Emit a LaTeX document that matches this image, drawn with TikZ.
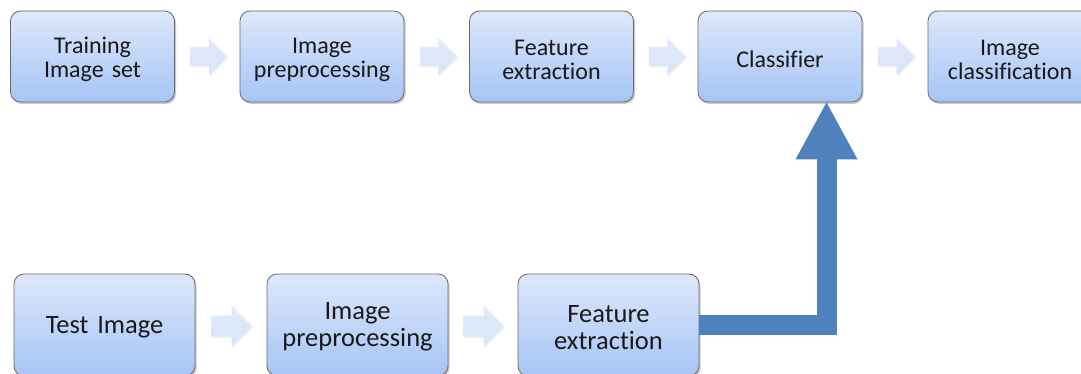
\documentclass[tikz,border=0pt]{standalone}
\usepackage{fontspec}
\setmainfont{Carlito}[Ligatures=NoCommon]
\usetikzlibrary{arrows.meta,shadows,calc}
\definecolor{boxtop}{RGB}{221,232,251}
\definecolor{boxbot}{RGB}{166,196,246}
\definecolor{boxborder}{RGB}{105,105,105}
\definecolor{arrtop}{RGB}{226,234,250}
\definecolor{arrbot}{RGB}{216,228,249}
\definecolor{bigblue}{RGB}{79,129,189}
\definecolor{txt}{RGB}{25,25,25}
\tikzset{
  box/.style={rounded corners=10pt, draw=boxborder, line width=0.8pt,
    top color=boxtop, bottom color=boxbot, align=center, text=txt,
    execute at begin node={\rule{0pt}{21.5pt}},
    drop shadow={shadow xshift=1.5pt, shadow yshift=-2pt, opacity=0.35, fill=black!60}},
  topbox/.style={box, minimum width=164pt, minimum height=91pt, text width=150pt,
    font=\fontsize{24}{24}\selectfont},
  botbox/.style={box, minimum width=181pt, minimum height=102pt, text width=165pt,
    font=\fontsize{26.5}{27}\selectfont},
  flowarrow/.pic={
    \shade[top color=arrtop, bottom color=arrbot,
      drop shadow={shadow xshift=1pt, shadow yshift=-1.5pt, opacity=0.12, fill=black!50}]
      (-18.5,-9.5) -- (0,-9.5) -- (0,-18.5) -- (18.5,0) -- (0,18.5) -- (0,9.5) -- (-18.5,9.5) -- cycle;
  },
  bigarrow/.style={line width=20pt, draw=bigblue,
    -{Triangle[width=62pt,length=57pt,line width=0pt]}}
}
\begin{document}
\begin{tikzpicture}[x=1pt,y=-1pt]
\clip (0,0) rectangle (1081,374);
\fill[white] (0,0) rectangle (1081,374);
% top row
\node[topbox] (t1) at (92.5,56.5) {Training\\Image set};
\node[topbox] (t2) at (322,56.5) {Image\\preprocessing};
\node[topbox] (t3) at (551.5,56.5) {Feature\\extraction};
\node[topbox] (c)  at (780,56.5) {Classifier};
\node[topbox] (t5) at (1010,56.5) {Image\\classification};
% bottom row
\node[botbox] (b1) at (104.5,325) {Test Image};
\node[botbox] (b2) at (357.5,325) {Image\\preprocessing};
\node[botbox] (b3) at (608.5,325) {Feature\\extraction};
% small arrows
\pic at ($(t1.east)!0.5!(t2.west)+(1.5,0)$) {flowarrow};
\pic at ($(t2.east)!0.5!(t3.west)+(1.5,0)$) {flowarrow};
\pic at ($(t3.east)!0.5!(c.west)+(1.5,0)$) {flowarrow};
\pic at ($(c.east)!0.5!(t5.west)+(1.5,0)$) {flowarrow};
\pic[scale=1.1] at ($(b1.east)!0.5!(b2.west)+(0.5,1)$) {flowarrow};
\pic[scale=1.1] at ($(b2.east)!0.5!(b3.west)+(0.5,1)$) {flowarrow};
% big arrow
\draw[bigarrow] (b3.east) -| ([xshift=46.5pt]c.south);
\end{tikzpicture}
\end{document}
